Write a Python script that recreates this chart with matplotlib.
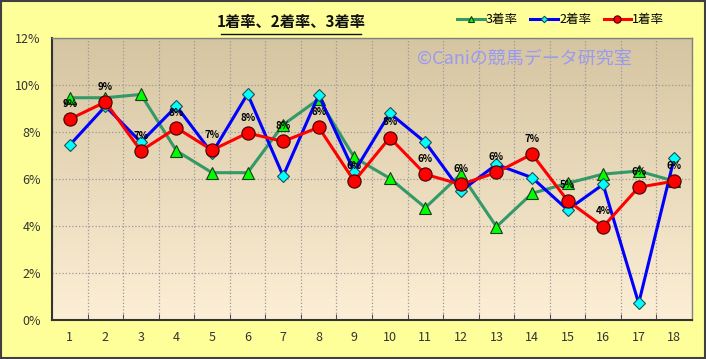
import numpy as np
import matplotlib
matplotlib.use('Agg')
import matplotlib.pyplot as plt
from matplotlib.patches import Rectangle
from matplotlib.colors import LinearSegmentedColormap

plt.rcParams['font.family'] = ['Noto Sans CJK JP', 'DejaVu Sans']

# data (percent)
categories = list(range(1, 19))
rate_1st = [8.55, 9.28, 7.20, 8.18, 7.23, 7.96, 7.60, 8.20, 5.91, 7.76,
            6.20, 5.77, 6.28, 7.06, 5.08, 3.97, 5.65, 5.91]
rate_2nd = [7.45, 9.10, 7.57, 9.10, 7.10, 9.62, 6.13, 9.57, 6.31, 8.80,
            7.56, 5.49, 6.62, 6.06, 4.69, 5.77, 0.71, 6.90]
rate_3rd = [9.46, 9.46, 9.60, 7.20, 6.27, 6.27, 8.31, 9.40, 6.92, 6.03,
            4.78, 6.21, 3.97, 5.39, 5.82, 6.21, 6.34, 5.91]
y_ticks = [0, 2, 4, 6, 8, 10, 12]

fig = plt.figure(figsize=(7.06, 3.59), dpi=100)
fig.patch.set_facecolor('#FFFF99')
fig.patches.append(Rectangle((0.001, 0.002), 0.997, 0.995, transform=fig.transFigure,
                             fill=False, edgecolor='#404040', linewidth=1.5))

ax = fig.add_axes([0.0737, 0.1086, 0.9065, 0.7854])

# gradient background
cmap = LinearSegmentedColormap.from_list('bg', ['#FDEFD6', '#D5C5A1'])
grad = np.linspace(0, 1, 256).reshape(-1, 1)
ax.imshow(grad, extent=[0, 1, 0, 1], transform=ax.transAxes, cmap=cmap,
          origin='lower', aspect='auto', zorder=0)

ax.plot(categories, rate_3rd, color='#339966', lw=2.2, marker='^', ms=8,
        mfc='#00FF00', mec='#1a3a1a', mew=0.8, label='3着率', zorder=3)
ax.plot(categories, rate_2nd, color='#0000FF', lw=2.2, marker='D', ms=6,
        mfc='#00FFFF', mec='#205050', mew=0.8, label='2着率', zorder=4)
ax.plot(categories, rate_1st, color='#FF0000', lw=2.2, marker='o', ms=9.5,
        mfc='#FF0000', mec='#400000', mew=0.8, label='1着率', zorder=5)

for x, v in zip(categories, rate_1st):
    ax.annotate('%d%%' % round(v), (x, v), xytext=(0, 11), textcoords='offset points',
                ha='center', va='center', fontsize=7, fontweight='bold',
                color='black', zorder=6)

ax.set_xlim(0.5, 18.5)
ax.set_ylim(0, 12)
ax.set_xticks(categories)
ax.set_xticks(np.arange(0.5, 19, 1), minor=True)
ax.set_yticks(y_ticks)
ax.set_yticklabels(['%d%%' % t for t in y_ticks])
ax.tick_params(axis='both', which='major', length=0, labelsize=9, colors='#333333', pad=8)
ax.tick_params(axis='x', which='minor', length=4, direction='in', color='#333333')
ax.grid(True, which='minor', axis='x', color='#999999', linestyle=':', lw=0.9)
ax.grid(True, which='major', axis='y', color='#999999', linestyle=':', lw=0.9)
ax.set_axisbelow(True)
for s in ['left', 'bottom']:
    ax.spines[s].set_color('#333333')
    ax.spines[s].set_linewidth(1.5)
for s in ['top', 'right']:
    ax.spines[s].set_color('#808080')
    ax.spines[s].set_linewidth(1.0)

ax.text(0.738, 0.925, '©Caniの競馬データ研究室', transform=ax.transAxes, ha='center',
        va='center', fontsize=13, color='#9A9AF0', zorder=2)

fig.text(0.412, 0.94, '1着率、2着率、3着率', ha='center', va='center', fontsize=11,
         fontweight='bold', color='#111111')
fig.add_artist(plt.Line2D([0.313, 0.512], [0.905, 0.905], color='#111111', lw=1))

ax.legend(loc='center right', bbox_to_anchor=(0.948, 0.945), bbox_transform=fig.transFigure,
          ncol=3, frameon=False, fontsize=9, handlelength=2.2, columnspacing=1.0,
          handletextpad=0.1, borderaxespad=0, markerscale=0.55)

fig.savefig('out.png', dpi=100, facecolor=fig.get_facecolor())
